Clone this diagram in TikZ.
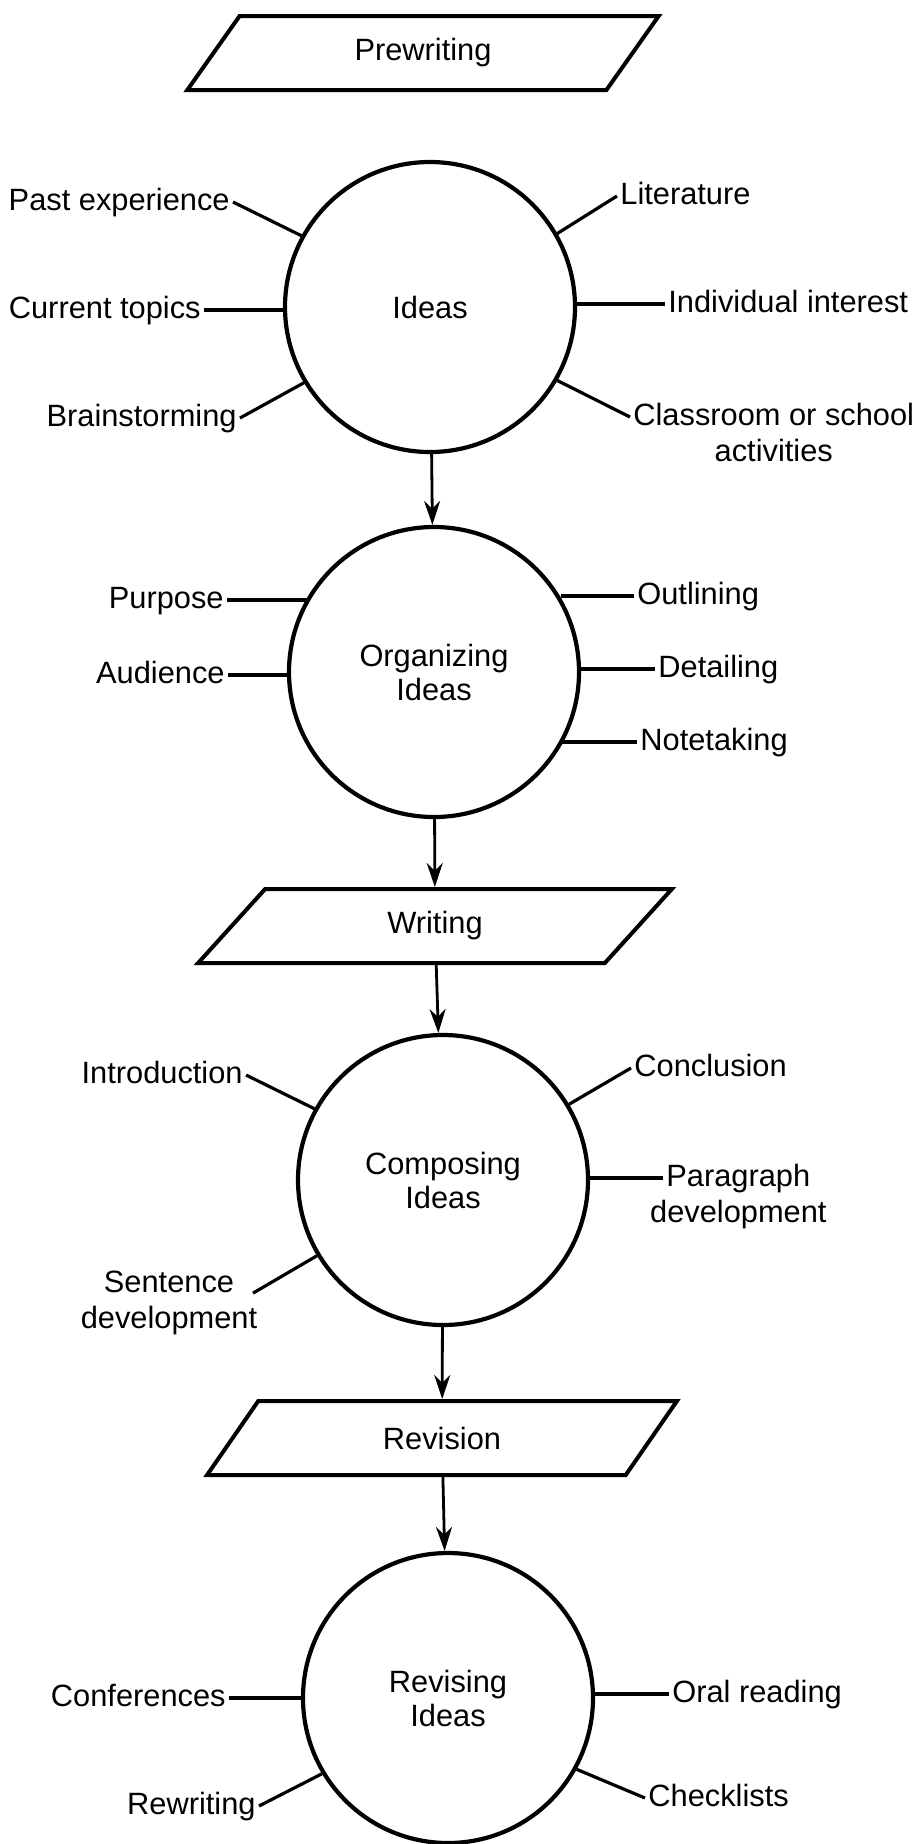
\documentclass[tikz,border=0pt]{standalone}
\usepackage{fontspec}
\setmainfont{Liberation Sans}
\usetikzlibrary{positioning,shapes.geometric,arrows.meta}

\tikzset{
  stage/.style={circle, draw, line width=2.1pt, minimum size=145pt, inner sep=0pt, align=center},
  phase/.style={trapezium, trapezium left angle=63, trapezium right angle=117,
    trapezium stretches=true, draw, line width=2pt, minimum width=237pt, minimum height=37pt},
  lbl/.style={inner sep=1.5pt, text height=11.5pt, text depth=3.3pt},
  spoke/.style={line width=1.6pt},
  flow/.style={line width=1.4pt, -{Stealth[length=12pt,width=8pt]}},
}

\begin{document}
\begin{tikzpicture}[x=0.5pt, y=-0.5pt, font=\fontsize{15.4}{17}\selectfont]

  % Page frame
  \useasboundingbox (0,0) rectangle (920,1844);

  % Stages
  \node[phase] (prewriting) at (423,53) {Prewriting};
  \node[stage] (ideas) at (430,307) {Ideas};
  \node[stage] (organizing) at (434,672) {Organizing\\Ideas};
  \node[phase] (writing) at (435,926) {Writing};
  \node[stage] (composing) at (443,1180) {Composing\\Ideas};
  \node[phase] (revision) at (442,1438) {Revision};
  \node[stage] (revising) at (448,1698) {Revising\\Ideas};

  % Arrows down the page
  \draw[flow] (ideas) -- (organizing);
  \draw[flow] (organizing) -- (writing);
  \draw[flow] (writing) -- (composing);
  \draw[flow] (composing) -- (revision);
  \draw[flow] (revision) -- (revising);

  % Ideas
  \node[lbl, anchor=east] (pastexp) at (233,202) {Past experience};
  \node[lbl, anchor=east] (curtopics) at (204,310) {Current topics};
  \node[lbl, anchor=east] (brainstorm) at (240,418) {Brainstorming};
  \node[lbl, anchor=west] (literature) at (617,196) {Literature};
  \node[lbl, anchor=west] (interest) at (665,304) {Individual interest};
  \node[lbl, anchor=west] (classroom) at (630,417) {Classroom or school};
  \node[lbl, below=0pt of classroom] (activities) {activities};

  \draw[spoke] (ideas.151) -- (pastexp.east);
  \draw[spoke] (curtopics.east) -- (curtopics.east -| ideas.west);
  \draw[spoke] (ideas.211) -- (brainstorm.east);
  \draw[spoke] (ideas.30) -- (literature.west);
  \draw[spoke] (interest.west) -- (interest.west -| ideas.east);
  \draw[spoke] (ideas.330) -- (classroom.west);

  % Organizing ideas
  \node[lbl, anchor=east] (purpose) at (227,600) {Purpose};
  \node[lbl, anchor=east] (audience) at (228,675) {Audience};
  \node[lbl, anchor=west] (outlining) at (634,596) {Outlining};
  \node[lbl, anchor=west] (detailing) at (655,669) {Detailing};
  \node[lbl, anchor=west] (notetaking) at (637,742) {Notetaking};

  \draw[spoke] (purpose.east) -- (organizing.150 |- purpose.east);
  \draw[spoke] (audience.east) -- (organizing.west |- audience.east);
  \draw[spoke] (outlining.west) -- (organizing.30 |- outlining.west);
  \draw[spoke] (detailing.west) -- (organizing.east |- detailing.west);
  \draw[spoke] (notetaking.west) -- (organizing.330 |- notetaking.west);

  % Composing ideas
  \node[lbl, anchor=east] (intro) at (246,1075) {Introduction};
  \node[lbl] (sentence) at (169,1284) {Sentence};
  \node[lbl, below=0pt of sentence] (sentdev) {development};
  \node[lbl, anchor=west] (conclusion) at (631,1068) {Conclusion};
  \node[lbl, anchor=west] (paragraph) at (663,1178) {Paragraph};
  \node[lbl, below=0pt of paragraph] (paradev) {development};

  \draw[spoke] (composing.151) -- (intro.east);
  \draw[spoke, shorten >=9pt] (composing.211) -- (sentence.south east);
  \draw[spoke] (composing.31) -- (conclusion.west);
  \draw[spoke] (paragraph.west) -- (paragraph.west -| composing.east);

  % Revising ideas
  \node[lbl, anchor=east] (conferences) at (229,1698) {Conferences};
  \node[lbl, anchor=east] (rewriting) at (259,1806) {Rewriting};
  \node[lbl, anchor=west] (oralread) at (669,1694) {Oral reading};
  \node[lbl, anchor=west] (checklists) at (645,1798) {Checklists};

  \draw[spoke] (conferences.east) -- (revising.west |- conferences.east);
  \draw[spoke] (revising.211) -- (rewriting.east);
  \draw[spoke] (oralread.west) -- (revising.east |- oralread.west);
  \draw[spoke] (revising.331) -- (checklists.west);

\end{tikzpicture}
\end{document}
